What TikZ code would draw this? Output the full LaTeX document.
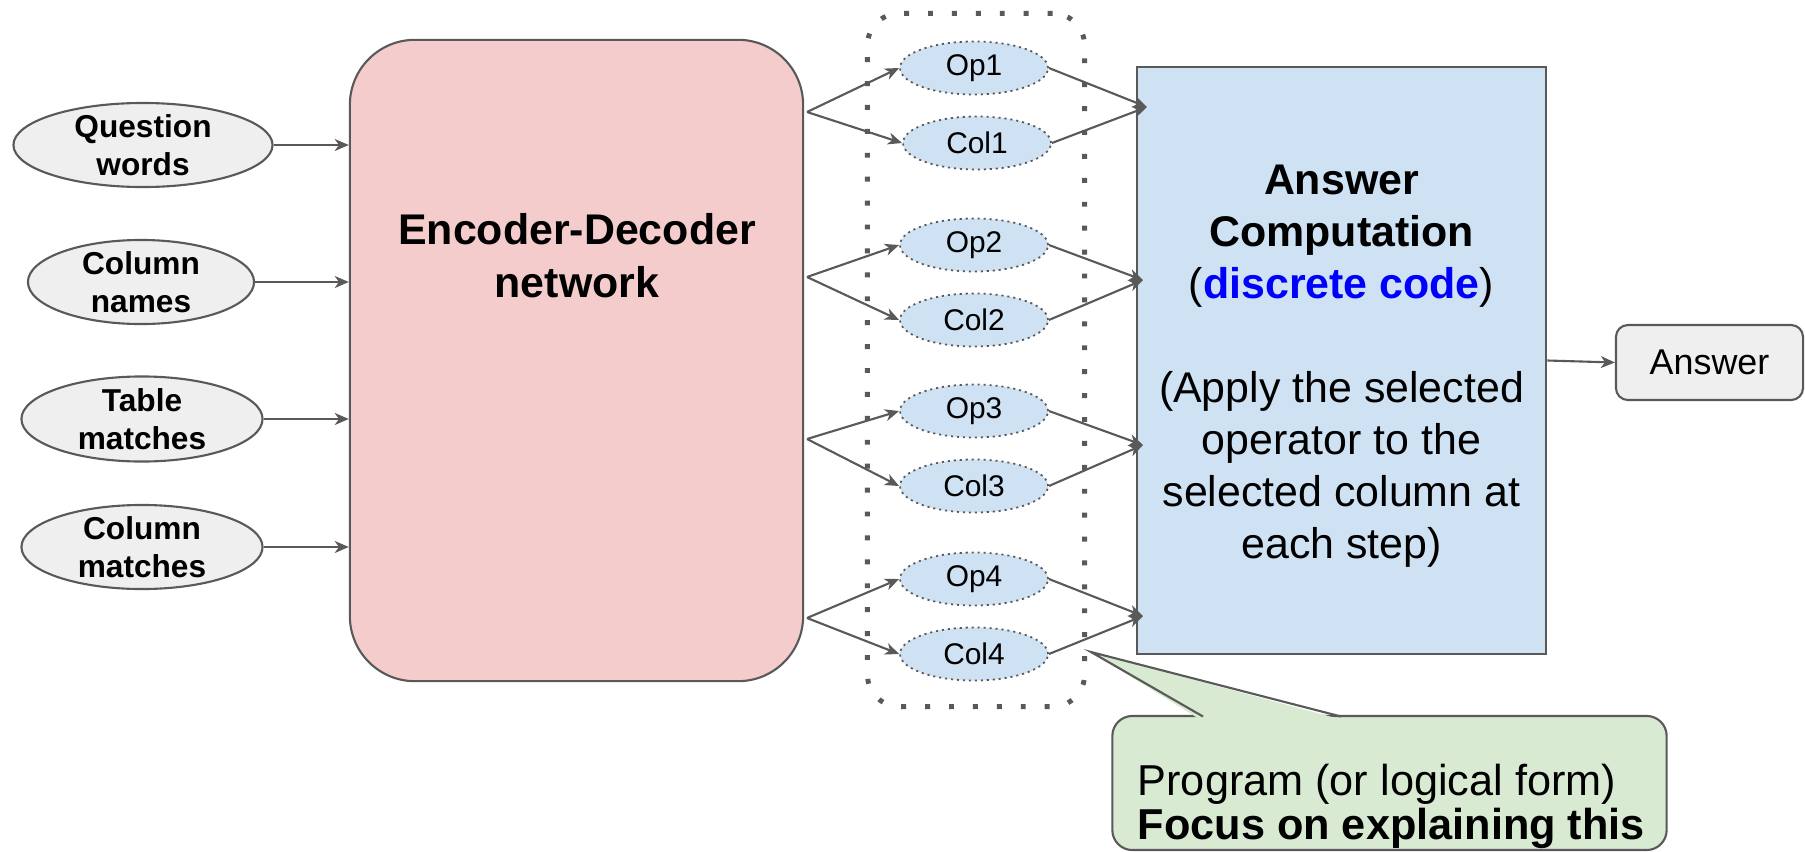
\documentclass[tikz,border=0pt]{standalone}
\usepackage{fontspec}
\setmainfont{Liberation Sans}
\usetikzlibrary{shapes.geometric,arrows.meta}
\definecolor{ln}{HTML}{595959}
\definecolor{grayf}{HTML}{EFEFEF}
\definecolor{pinkf}{HTML}{F4CCCC}
\definecolor{bluef}{HTML}{CFE2F3}
\definecolor{greenf}{HTML}{D9EAD3}
\definecolor{codeblue}{HTML}{0000FF}
\tikzset{
  arr/.style={draw=ln, line width=0.6pt, -{Stealth[length=4pt,width=3.4pt,inset=1.2pt]}},
  inell/.style={ellipse, draw=ln, line width=0.6pt, fill=grayf, inner xsep=0pt, inner ysep=-4pt, align=center,
     font=\fontsize{9}{10.8}\selectfont\bfseries},
  smell/.style={ellipse, draw=ln, line width=0.5pt, dash pattern=on 0.6pt off 1.1pt, fill=bluef,
     minimum width=1.48cm, minimum height=0.53cm, inner sep=0pt, font=\fontsize{8.5}{10}\selectfont},
  encbox/.style={draw=ln, line width=0.6pt, fill=pinkf, rounded corners=0.65cm,
     minimum width=4.53cm, minimum height=6.41cm, inner sep=0pt},
  compbox/.style={draw=ln, line width=0.7pt, fill=bluef, minimum width=4.09cm, minimum height=5.87cm,
     inner sep=0pt},
  comptext/.style={inner sep=0pt, align=center, font=\fontsize{12.2}{14.8}\selectfont},
  ansbox/.style={draw=ln, line width=0.6pt, fill=grayf, rounded corners=0.12cm,
     minimum width=1.87cm, minimum height=0.75cm, inner sep=0pt, font=\fontsize{10.2}{12}\selectfont},
  grpframe/.style={draw=ln, line width=1.4pt, dash pattern=on 1.4pt off 5.4pt, rounded corners=0.32cm,
     minimum width=2.17cm, minimum height=6.93cm, inner sep=0pt},
  notebox/.style={draw=ln, line width=0.6pt, fill=greenf, rounded corners=0.2cm,
     minimum width=5.54cm, minimum height=1.34cm, inner sep=0pt},
}
\begin{document}
\begin{tikzpicture}[x=0.01cm, y=-0.01cm]
\useasboundingbox (0,0) rectangle (1805,851);

% input ellipses
\node[inell, minimum width=2.59cm, minimum height=0.84cm] (qw) at (143,145) {Question\\words};
\node[inell, minimum width=2.26cm, minimum height=0.84cm] (cn) at (141,282) {Column\\names};
\node[inell, minimum width=2.41cm, minimum height=0.85cm] (tm) at (142,419) {Table\\matches};
\node[inell, minimum width=2.41cm, minimum height=0.84cm] (cm) at (142,547) {Column\\matches};

% encoder
\node[encbox] (enc) at (576.5,360.5) {};
\node[font=\fontsize{12.2}{15.1}\selectfont\bfseries, align=center, inner sep=0pt] (enctxt) at (577,256) {Encoder-Decoder\\network};

\draw[arr] (qw.east) -- (enc.west |- qw.east);
\draw[arr] (cn.east) -- (enc.west |- cn.east);
\draw[arr] (tm.east) -- (enc.west |- tm.east);
\draw[arr] (cm.east) -- (enc.west |- cm.east);

% program frame
\node[grpframe] (grp) at (976,360) {};

% answer computation
\node[compbox] (comp) at (1341.5,360.5) {};
\node[comptext] (comptxt) at (1341.5,366) {\textbf{Answer}\\\textbf{Computation}\\(\textcolor{codeblue}{\textbf{discrete code}})\\[14.8pt](Apply the selected\\operator to the\\selected column at\\each step)};

% small ellipses
\node[smell] (op1) at (974,68) {Op1};
\node[smell] (col1) at (977,143) {Col1};
\node[smell] (op2) at (974,245) {Op2};
\node[smell] (col2) at (974,320) {Col2};
\node[smell] (op3) at (974,411) {Op3};
\node[smell] (col3) at (974,486) {Col3};
\node[smell] (op4) at (974,579) {Op4};
\node[smell] (col4) at (974,654) {Col4};

% branch points
\coordinate (b1) at (807,112);
\coordinate (b2) at (807,277);
\coordinate (b3) at (807,439);
\coordinate (b4) at (807,618);
% junctions
\coordinate (j1) at (1147,107);
\coordinate (j2) at (1143,280);
\coordinate (j3) at (1143,445);
\coordinate (j4) at (1143,616);

\foreach \i in {1,2,3,4}{
  \draw[arr] (b\i) -- (op\i.west);
  \draw[arr] (b\i) -- (col\i.west);
  \draw[arr] (op\i.east) -- (j\i);
  \draw[arr] (col\i.east) -- (j\i);
}

% answer
\node[ansbox] (ans) at (1709.5,362.5) {Answer};
\draw[arr] (comp.east) -- (ans.west);

% callout
\node[notebox] (note) at (1389.5,783) {};
\coordinate (tipc) at (1091,652);
\fill[greenf] (1201,720) -- (tipc) -- (1343,720) -- cycle;
\draw[ln, line width=0.6pt, line join=miter] (1203,716.5) -- (tipc) -- (1341,716.5);
\node[font=\fontsize{12.3}{10.8}\selectfont, align=left, anchor=west, inner sep=0pt] (notetxt) at (1137,806) {Program (or logical form)\\\textbf{Focus on explaining this}};
\end{tikzpicture}
\end{document}
